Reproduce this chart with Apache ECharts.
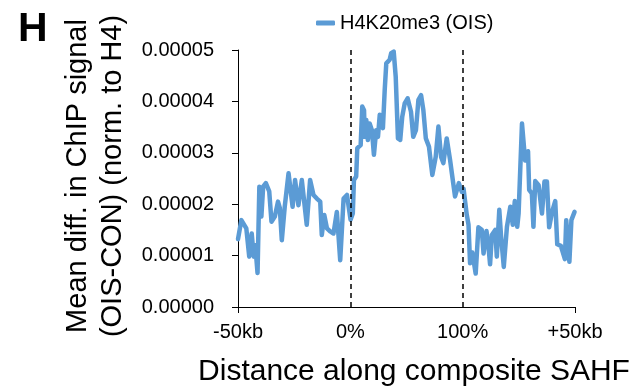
<!DOCTYPE html>
<html>
<head>
<meta charset="utf-8">
<style>html,body{margin:0;padding:0;background:#fff;}#c{width:635px;height:392px;}</style>
<script src="https://cdn.jsdelivr.net/npm/echarts@6/dist/echarts.min.js"></script>
</head>
<body>
<div id="c"></div>
<script>
// Position along composite (0 = -50kb, 50 = 0%, 100 = 100%, 150 = +50kb)
var X_POS = [
  0.0,1.5,3.7,5.0,6.1,7.0,7.7,8.7,9.5,10.4,
  11.2,12.4,13.9,14.9,16.4,17.8,18.6,19.5,20.8,22.5,
  24.3,25.4,26.9,28.4,30.6,32.1,33.6,35.1,36.6,37.3,
  38.4,39.6,41.0,42.5,44.0,45.5,47.0,48.5,50.1,51.1,
  51.6,52.6,53.1,54.6,55.3,56.1,56.4,57.1,57.8,58.6,
  59.6,60.5,61.5,62.3,63.1,63.8,64.5,65.3,66.0,67.5,
  68.2,69.3,70.2,71.2,72.2,73.1,74.2,75.5,77.0,78.0,
  79.2,80.3,81.5,82.5,83.6,85.0,86.5,88.0,89.2,90.4,
  91.4,92.9,94.4,95.2,96.6,98.3,99.6,100.4,101.8,102.6,
  103.3,104.3,105.8,107.0,108.5,109.3,110.6,111.5,112.2,113.0,
  114.5,115.2,116.3,117.1,118.3,119.7,121.2,122.3,123.2,124.3,
  124.9,126.4,127.8,129.1,129.6,130.8,131.5,132.3,133.8,135.3,
  136.4,137.5,138.5,139.8,141.2,142.1,143.7,145.5,146.1,147.5,
  148.4,149.8
];
// Mean diff. values in units of 1e-5
var Y_VAL = [
  1.32,1.69,1.53,0.98,1.43,0.98,1.20,0.66,2.34,1.76,
  2.34,2.41,2.25,1.66,1.76,2.05,1.93,1.30,1.95,2.60,
  1.95,2.47,1.98,2.47,1.60,2.47,2.18,2.11,2.05,1.40,
  1.79,1.53,1.47,1.43,1.85,0.91,2.11,2.18,1.70,1.82,
  2.47,2.54,3.09,3.15,3.90,3.83,3.31,3.64,3.25,3.57,
  3.44,2.96,3.44,3.31,3.74,3.77,3.48,4.22,4.74,4.81,
  4.94,4.97,4.48,3.28,3.25,3.70,3.96,4.06,3.80,3.31,
  3.44,4.03,4.12,3.83,3.28,3.12,2.57,2.92,3.51,2.92,
  2.80,3.28,2.86,2.60,2.15,2.41,2.24,2.30,1.80,1.60,
  0.85,1.06,0.65,1.55,1.50,1.04,1.48,1.17,0.83,1.40,
  1.50,0.98,1.89,1.37,0.78,1.56,1.95,1.60,2.06,1.56,
  1.82,3.57,2.85,3.03,2.28,2.21,1.56,2.45,2.37,1.82,
  2.44,2.44,1.55,1.85,2.06,1.22,1.19,0.93,1.69,0.88,
  1.69,1.85
];
var SCALE = 1e-5;
var X_TICKS = [0, 50, 100, 150];
var X_TICK_LABELS = ['-50kb', '0%', '100%', '+50kb'];
var BOUNDARIES = [50, 100];
var SERIES_NAME = 'H4K20me3 (OIS)';

var FONT = '"Liberation Sans", Arial, sans-serif';
var data = X_POS.map(function (x, i) { return [x, Y_VAL[i] * SCALE]; });

var chart = echarts.init(document.getElementById('c'), null, {renderer: 'canvas'});
chart.setOption({
  animation: false,
  backgroundColor: '#ffffff',
  textStyle: {fontFamily: FONT},
  grid: {left: 238, right: 60, top: 50, bottom: 85, containLabel: false},
  legend: {
    data: [SERIES_NAME],
    left: 316, top: 13, padding: 0,
    icon: 'roundRect', itemWidth: 19, itemHeight: 5,
    textStyle: {fontSize: 20, color: '#000', fontFamily: FONT}
  },
  xAxis: {
    type: 'value', min: 0, max: 150, interval: 50,
    axisLine: {show: true, lineStyle: {color: '#000', width: 1}},
    axisTick: {show: true, customValues: [0, 150], length: 6, lineStyle: {color: '#000'}},
    axisLabel: {
      customValues: X_TICKS,
      margin: 15, fontSize: 20, color: '#000', fontFamily: FONT,
      formatter: function (v) { return X_TICK_LABELS[X_TICKS.indexOf(v)]; }
    },
    splitLine: {show: false}
  },
  yAxis: {
    type: 'value', min: 0, max: 5 * SCALE, interval: SCALE,
    axisLine: {show: true, lineStyle: {color: '#000', width: 1}},
    axisTick: {show: true, length: 6, lineStyle: {color: '#000'}},
    axisLabel: {
      margin: 24, fontSize: 20, color: '#000', fontFamily: FONT,
      formatter: function (v) { return v.toFixed(5); }
    },
    splitLine: {show: false}
  },
  graphic: [
    {type: 'text', left: 18, top: 9, style: {text: 'H', fontSize: 41, fontWeight: 'bold', fill: '#000', fontFamily: FONT}},
    {type: 'text', x: 95, y: 176, rotation: Math.PI / 2,
      style: {text: 'Mean diff. in ChIP signal\n(OIS-CON) (norm. to H4)', fontSize: 29, lineHeight: 35,
        fill: '#000', fontFamily: FONT, textAlign: 'center', textVerticalAlign: 'middle'}},
    {type: 'text', x: 414, y: 372,
      style: {text: 'Distance along composite SAHF', fontSize: 30, fill: '#000', fontFamily: FONT,
        textAlign: 'center', textVerticalAlign: 'middle'}}
  ],
  series: [{
    name: SERIES_NAME,
    type: 'line',
    data: data,
    showSymbol: false,
    symbol: 'none',
    color: '#5b9bd5',
    lineStyle: {width: 4.5, color: '#5b9bd5', cap: 'round', join: 'round'},
    markLine: {
      silent: true, symbol: 'none', label: {show: false},
      lineStyle: {color: '#000', width: 1.5, type: [5, 4]},
      data: BOUNDARIES.map(function (b) { return {xAxis: b}; })
    }
  }]
});
</script>
</body>
</html>
